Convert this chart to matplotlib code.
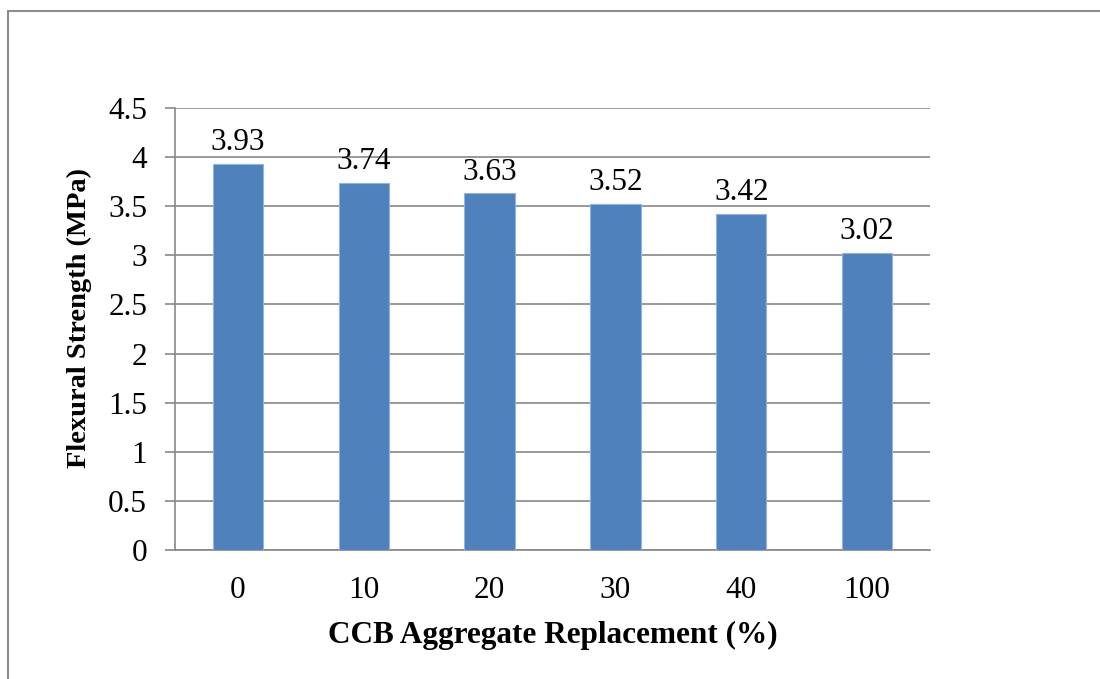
import numpy as np
import matplotlib
matplotlib.use("Agg")
from matplotlib import pyplot as plt
from matplotlib.patches import Rectangle

# flexural strength vs CCB replacement level
replacement = ["0", "10", "20", "30", "40", "100"]
strength = [3.93, 3.74, 3.63, 3.52, 3.42, 3.02]
y_ticks = [0, 0.5, 1, 1.5, 2, 2.5, 3, 3.5, 4, 4.5]
y_tick_labels = ["0", "0.5", "1", "1.5", "2", "2.5", "3", "3.5", "4", "4.5"]

plt.rcParams['font.family'] = ['Liberation Serif', 'DejaVu Serif']
grid_col = "#878787"
fs = 22.5

fig = plt.figure(figsize=(11, 6.79), dpi=100)
W, H = 1100, 679

# outer chart frame (runs off the right and bottom edges)
fig.patches.append(Rectangle((8 / W, -0.05), 1.1, (H - 11) / H + 0.05,
                             transform=fig.transFigure, fill=False,
                             edgecolor="#8c8c8c", linewidth=1.5))

ax = fig.add_axes([175 / W, (H - 550) / H, (930 - 175) / W, (550 - 108) / H])
x = np.arange(len(replacement))
bars = ax.bar(x, strength, width=0.4, color="#4F81BD", edgecolor="#8EB4E3",
              linewidth=0.8, zorder=3)

for xi, v in zip(x, strength):
    ax.text(xi, v + 0.07, f"{v:.2f}", ha="center", va="bottom", fontsize=fs)

ax.set_ylim(0, 4.5)
ax.set_xlim(-0.5, len(replacement) - 0.5)
ax.set_yticks(y_ticks)
ax.set_yticklabels(y_tick_labels, fontsize=fs)
ax.set_xticks(x)
ax.set_xticklabels(replacement, fontsize=fs)
ax.yaxis.grid(True, color=grid_col, linewidth=1.2, zorder=0)
ax.set_axisbelow(True)

for s in ["top", "right"]:
    ax.spines[s].set_visible(False)
ax.spines["left"].set_color(grid_col)
ax.spines["bottom"].set_color(grid_col)
ax.spines["left"].set_linewidth(1.2)
ax.spines["bottom"].set_linewidth(1.2)
ax.tick_params(axis="y", length=7, width=1.2, color=grid_col, pad=13)
ax.tick_params(axis="x", length=0, pad=19)

ax.set_xlabel("CCB Aggregate Replacement (%)", fontsize=fs, fontweight="bold",
              labelpad=11)
ax.set_ylabel("Flexural Strength (MPa)", fontsize=20.5, fontweight="bold",
              labelpad=12)
ax.yaxis.label.set_y(0.525)

fig.savefig("out.png", dpi=100)
